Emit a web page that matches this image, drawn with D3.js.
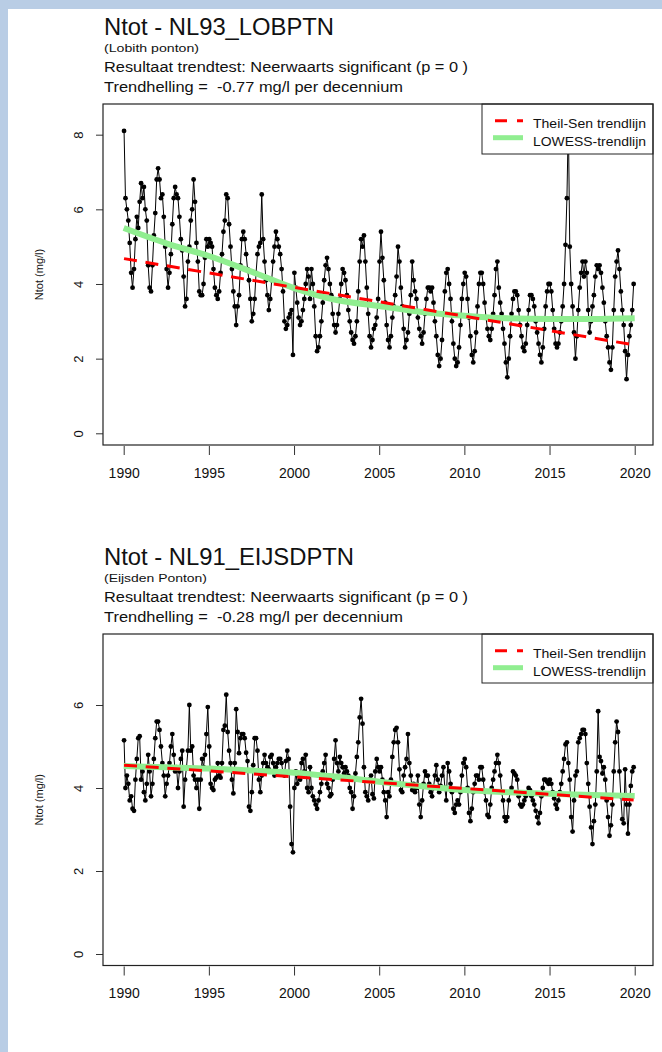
<!DOCTYPE html>
<html>
<head>
<meta charset="utf-8">
<script src="https://cdn.jsdelivr.net/npm/d3@7"></script>
<style>
  html, body { margin: 0; padding: 0; background: #b9cde5; }
  svg { display: block; }
  text { font-family: "Liberation Sans", Arial, sans-serif; fill: #111; white-space: pre; }
</style>
</head>
<body>
<svg id="chart" width="662" height="1052"></svg>
<script>
// ---- data ----
const startJaar = 1990;
const jaarTicks = [1990, 1995, 2000, 2005, 2010, 2015, 2020];

// Ntot (mg/l) Lobith, maandelijks 1990-2019
const lobithWaarden = [
  8.1, 6.3, 6.0, 5.7, 5.1, 4.3, 3.9, 4.4, 5.2, 5.8, 5.5, 6.2,   // 1990
  6.7, 6.3, 6.6, 6.0, 5.7, 4.5, 3.9, 3.8, 4.5, 5.3, 5.9, 6.8,   // 1991
  7.1, 6.8, 6.3, 6.4, 5.8, 5.0, 4.4, 3.9, 4.3, 4.8, 5.6, 6.3,   // 1992
  6.6, 6.4, 6.3, 5.8, 5.2, 4.9, 4.2, 3.4, 3.6, 4.6, 5.0, 5.7,   // 1993
  6.0, 6.8, 6.2, 5.1, 4.6, 3.8, 3.7, 3.7, 4.0, 4.7, 5.2, 5.0,   // 1994
  5.2, 5.1, 5.0, 4.4, 3.9, 3.7, 3.6, 3.8, 4.3, 4.8, 5.4, 5.7,   // 1995
  6.4, 6.3, 5.6, 5.0, 4.4, 3.8, 3.4, 2.9, 3.4, 3.7, 4.5, 5.2,   // 1996
  5.4, 5.2, 4.8, 4.4, 4.1, 3.6, 3.0, 3.2, 3.6, 4.3, 4.8, 5.0,   // 1997
  5.1, 6.4, 5.2, 4.6, 4.1, 3.7, 3.3, 3.6, 4.1, 4.6, 5.0, 5.4,   // 1998
  5.2, 5.0, 4.8, 4.4, 3.8, 3.0, 2.8, 2.9, 3.1, 3.2, 3.3, 2.1,   // 1999
  4.3, 3.9, 3.5, 3.1, 2.9, 3.0, 3.3, 3.6, 4.0, 4.4, 4.2, 3.6,   // 2000
  4.4, 4.0, 3.4, 2.6, 2.2, 2.3, 2.6, 3.0, 3.5, 4.1, 4.5, 4.7,   // 2001
  4.4, 4.0, 3.7, 3.2, 2.9, 2.7, 2.9, 3.2, 3.6, 4.0, 4.4, 4.3,   // 2002
  4.1, 3.7, 3.3, 3.0, 2.7, 2.5, 2.4, 2.6, 3.0, 3.8, 4.6, 5.2,   // 2003
  5.0, 5.3, 4.6, 3.9, 3.2, 2.6, 2.3, 2.5, 2.8, 2.9, 3.1, 3.6,   // 2004
  4.6, 5.4, 4.7, 4.1, 3.5, 2.9, 2.5, 2.3, 2.6, 3.1, 3.4, 3.7,   // 2005
  4.2, 5.0, 4.6, 3.9, 3.4, 2.8, 2.3, 2.5, 2.7, 3.2, 3.7, 4.6,   // 2006
  4.1, 3.8, 3.6, 3.1, 2.8, 2.6, 2.4, 2.7, 3.2, 3.6, 3.9, 3.9,   // 2007
  3.8, 3.9, 3.5, 3.0, 2.6, 2.1, 1.8, 2.0, 2.5, 3.2, 3.8, 4.3,   // 2008
  4.4, 4.0, 3.6, 3.0, 2.4, 2.0, 1.8, 1.9, 2.3, 2.9, 3.6, 4.0,   // 2009
  4.3, 4.2, 3.6, 3.1, 2.6, 2.1, 1.9, 2.2, 2.7, 3.4, 4.0, 4.3,   // 2010
  4.3, 4.0, 3.5, 3.1, 2.8, 2.6, 2.5, 2.8, 3.2, 3.7, 4.4, 4.6,   // 2011
  3.9, 3.5, 3.2, 2.8, 2.4, 1.9, 1.5, 2.0, 2.6, 3.2, 3.6, 3.8,   // 2012
  3.8, 3.7, 3.3, 2.9, 2.6, 2.3, 2.2, 2.4, 2.9, 3.3, 3.7, 3.7,   // 2013
  3.6, 3.4, 3.0, 2.7, 2.4, 2.1, 1.9, 2.3, 2.8, 3.4, 3.8, 4.0,   // 2014
  4.0, 3.8, 3.3, 2.8, 2.4, 2.3, 2.4, 2.7, 3.0, 3.4, 4.0, 5.05,  // 2015
  6.3, 8.4, 5.0, 4.0, 3.4, 2.7, 2.0, 2.6, 3.3, 3.9, 4.3, 4.6,   // 2016
  4.2, 4.6, 4.3, 3.3, 2.7, 3.0, 3.4, 3.7, 4.2, 4.5, 4.4, 4.5,   // 2017
  4.3, 3.9, 3.5, 3.0, 2.6, 2.3, 1.9, 1.7, 2.3, 3.3, 4.2, 4.6,   // 2018
  4.9, 4.4, 3.8, 3.3, 2.9, 2.2, 1.45, 2.1, 2.6, 2.9, 3.3, 4.0   // 2019
];
const lobithTheilSen = [4.68, 2.37];            // begin / eind
const lobithLowessJaren = [1990, 1992.5, 1995, 1997.5, 2000, 2002.5, 2005, 2007.5, 2010, 2012.5, 2015, 2017.5, 2020];
const lobithLowess = [5.50, 5.09, 4.75, 4.33, 3.89, 3.57, 3.41, 3.25, 3.15, 3.08, 3.06, 3.06, 3.08];

// Ntot (mg/l) Eijsden, maandelijks 1990-2019
const eijsdenWaarden = [
  5.15, 4.0, 4.3, 4.1, 3.7, 3.8, 3.5, 3.45, 4.2, 4.7, 5.2, 5.25,   // 1990
  4.2, 4.4, 3.9, 3.7, 4.1, 4.8, 4.4, 3.8, 4.1, 4.7, 5.2, 5.6,      // 1991
  5.6, 5.4, 5.0, 4.6, 4.3, 3.8, 4.1, 4.3, 4.6, 5.0, 5.3, 4.8,      // 1992
  4.4, 4.5, 4.0, 4.4, 4.7, 4.9, 3.55, 4.2, 4.5, 4.9, 6.0, 4.9,     // 1993
  5.0, 4.3, 4.2, 4.0, 4.2, 3.5, 4.2, 4.7, 4.5, 4.8, 5.3, 5.95,     // 1994
  5.0, 4.1, 4.0, 3.95, 4.2, 4.25, 4.6, 4.3, 4.25, 4.6, 5.4, 5.5,   // 1995
  6.25, 5.35, 4.9, 4.6, 4.2, 3.87, 4.6, 5.9, 5.35, 4.84, 5.2, 5.3, // 1996
  5.3, 5.2, 4.85, 4.65, 3.55, 3.45, 3.9, 4.55, 5.2, 5.2, 4.9, 4.2, // 1997
  3.9, 4.3, 4.6, 4.8, 4.6, 4.5, 4.45, 4.75, 4.8, 4.6, 4.3, 4.5,    // 1998
  4.6, 4.7, 4.7, 4.6, 4.35, 4.3, 4.65, 4.9, 4.7, 3.55, 2.65, 2.45, // 1999
  4.0, 4.4, 4.1, 4.3, 4.2, 4.6, 4.7, 4.4, 4.8, 4.0, 3.9, 4.5,      // 2000
  4.0, 3.8, 3.7, 3.6, 3.5, 3.7, 3.9, 4.1, 4.4, 4.6, 4.8, 4.1,      // 2001
  4.0, 3.8, 3.85, 4.2, 4.7, 5.15, 4.6, 4.4, 4.75, 4.6, 4.5, 4.35,  // 2002
  4.5, 4.4, 4.3, 4.0, 3.9, 3.5, 3.8, 4.35, 4.75, 5.1, 5.7, 6.15,   // 2003
  5.55, 4.5, 3.9, 3.8, 3.7, 4.2, 4.3, 3.85, 3.75, 4.4, 4.7, 4.5,   // 2004
  4.4, 4.5, 4.2, 3.9, 3.7, 3.3, 3.9, 3.8, 4.2, 4.75, 5.1, 5.4,     // 2005
  5.45, 5.1, 4.45, 3.95, 3.9, 4.3, 4.5, 4.7, 5.3, 4.6, 4.3, 3.95,  // 2006
  4.1, 3.9, 4.0, 4.3, 3.6, 3.3, 3.7, 4.1, 4.4, 4.3, 4.3, 4.1,      // 2007
  3.9, 3.8, 4.0, 4.3, 4.55, 4.2, 3.9, 4.05, 4.3, 4.5, 4.0, 3.7,    // 2008
  4.6, 4.4, 4.1, 3.9, 3.5, 3.4, 3.6, 3.7, 3.6, 3.9, 4.3, 4.6,      // 2009
  4.7, 4.5, 4.0, 3.4, 3.2, 3.5, 3.9, 4.1, 4.3, 4.3, 4.2, 4.5,      // 2010
  4.5, 4.2, 3.9, 3.7, 3.35, 3.3, 3.6, 4.0, 4.2, 4.4, 4.6, 4.8,     // 2011
  4.6, 4.3, 3.9, 3.7, 3.3, 3.2, 3.3, 3.7, 3.9, 4.0, 4.4, 4.35,     // 2012
  4.3, 4.2, 3.8, 3.6, 3.55, 3.6, 3.7, 3.8, 3.9, 4.0, 3.95, 3.8,    // 2013
  3.7, 3.6, 3.45, 3.3, 3.15, 3.4, 3.8, 4.0, 4.2, 4.2, 4.15, 4.1,   // 2014
  4.2, 4.1, 3.9, 3.75, 3.6, 3.5, 3.7, 3.9, 4.1, 4.4, 4.7, 5.05,    // 2015
  5.1, 4.6, 4.2, 3.3, 2.95, 3.7, 4.3, 4.4, 5.1, 5.2, 5.3, 5.4,     // 2016
  5.4, 5.3, 4.6, 4.1, 3.55, 3.05, 2.65, 3.2, 3.6, 4.4, 5.85, 4.75, // 2017
  4.65, 4.35, 4.5, 4.2, 3.7, 3.3, 2.85, 3.1, 3.6, 4.4, 5.1, 5.6,   // 2018
  5.35, 4.4, 3.8, 3.25, 3.15, 4.45, 3.6, 2.9, 3.6, 4.05, 4.4, 4.5  // 2019
];
const eijsdenTheilSen = [4.55, 3.71];
const eijsdenLowessJaren = [1990, 1992.5, 1995, 1997.5, 2000, 2002.5, 2005, 2007.5, 2010, 2012.5, 2015, 2017.5, 2020];
const eijsdenLowess = [4.53, 4.50, 4.47, 4.42, 4.37, 4.27, 4.15, 4.04, 3.95, 3.90, 3.86, 3.83, 3.81];

const legendaLabels = ["Theil-Sen trendlijn", "LOWESS-trendlijn"];

// ---- tekenen ----
const svg = d3.select("#chart");
svg.append("rect").attr("x", 8).attr("y", 9).attr("width", 654).attr("height", 1043).attr("fill", "#fff");

const datumVan = i => startJaar + (i + 0.25) / 12;

function tekenPaneel(p) {
  const g = svg.append("g");
  const x = d3.scaleLinear().domain([1988.785, 2021.074]).range([103, 653]);
  const y = d3.scaleLinear().domain(p.yDomein).range([p.onder, p.boven]);

  // koppen
  const kop = (tekst, yy, size, len) => g.append("text")
    .attr("x", 104).attr("y", yy)
    .attr("font-size", size)
    .attr("xml:space", "preserve")
    .attr("textLength", len).attr("lengthAdjust", "spacingAndGlyphs")
    .text(tekst);
  kop(p.titel, p.boven - 69.5, 23, p.titelLen);
  kop(p.sub, p.boven - 52, 11, p.subLen);
  kop(p.regel1, p.boven - 32.5, 14, 364);
  kop(p.regel2, p.boven - 12, 14, 299);

  // assen
  const yAs = g.append("g").attr("transform", "translate(103,0)")
    .call(d3.axisLeft(y).tickValues(p.yTicks).tickSize(7).tickFormat(d3.format("d")));
  yAs.select(".domain").remove();
  yAs.selectAll("line").attr("stroke", "#333");
  yAs.selectAll("text")
    .attr("x", null).attr("dy", null)
    .attr("text-anchor", "middle")
    .attr("transform", "translate(-20,0) rotate(-90)")
    .attr("font-size", 13).attr("fill", "#222");

  const xAs = g.append("g").attr("transform", `translate(0,${p.onder + 1})`)
    .call(d3.axisBottom(x).tickValues(jaarTicks).tickSize(9).tickFormat(d3.format("d")));
  xAs.select(".domain").remove();
  xAs.selectAll("line").attr("stroke", "#333");
  xAs.selectAll("text").attr("y", 22).attr("font-size", 14).attr("fill", "#222");

  g.append("text")
    .attr("transform", `translate(43,${(p.boven + p.onder) / 2}) rotate(-90)`)
    .attr("text-anchor", "middle").attr("font-size", 11)
    .text("Ntot (mg/l)");

  // meetreeks
  const punten = p.waarden.map((v, i) => [datumVan(i), v]);
  const lijn = d3.line().x(d => x(d[0])).y(d => y(d[1]));
  g.append("path").datum(punten)
    .attr("d", lijn).attr("fill", "none").attr("stroke", "#000").attr("stroke-width", 1);
  g.selectAll("circle.punt").data(punten).join("circle")
    .attr("class", "punt")
    .attr("cx", d => x(d[0])).attr("cy", d => y(d[1])).attr("r", 2.4).attr("fill", "#000");

  // LOWESS
  const lowess = p.lowessJaren.map((j, i) => [j, p.lowess[i]]);
  g.append("path").datum(lowess)
    .attr("d", d3.line().curve(d3.curveMonotoneX).x(d => x(d[0])).y(d => y(d[1])))
    .attr("fill", "none").attr("stroke", "#90ee90").attr("stroke-width", 6);

  // Theil-Sen
  const ts = [[datumVan(0), p.theilSen[0]], [datumVan(p.waarden.length - 1), p.theilSen[1]]];
  g.append("path").datum(ts)
    .attr("d", lijn).attr("fill", "none").attr("stroke", "#ff0000")
    .attr("stroke-width", 3).attr("stroke-dasharray", "13,8.7");

  // legenda
  const lg = g.append("g").attr("transform", `translate(482,${p.boven})`);
  lg.append("rect").attr("width", 171).attr("height", p.legHoogte)
    .attr("fill", "#fff").attr("stroke", "#222");
  lg.append("line").attr("x1", 13).attr("x2", 41).attr("y1", 16.7).attr("y2", 16.7)
    .attr("stroke", "#ff0000").attr("stroke-width", 3).attr("stroke-dasharray", "12,10");
  lg.append("line").attr("x1", 11).attr("x2", 41).attr("y1", 33.7).attr("y2", 33.7)
    .attr("stroke", "#90ee90").attr("stroke-width", 5);
  lg.selectAll("text.leg").data(legendaLabels).join("text")
    .attr("class", "leg")
    .attr("x", 51).attr("y", (d, i) => 23.5 + i * 18)
    .attr("font-size", 13)
    .attr("textLength", 113).attr("lengthAdjust", "spacingAndGlyphs")
    .text(d => d);

  // kader
  g.append("rect").attr("x", 103).attr("y", p.boven)
    .attr("width", 550).attr("height", p.onder - p.boven)
    .attr("fill", "none").attr("stroke", "#222").attr("stroke-width", 1.2);
}

tekenPaneel({
  titel: "Ntot - NL93_LOBPTN", titelLen: 230,
  sub: "(Lobith ponton)", subLen: 95,
  regel1: "Resultaat trendtest: Neerwaarts significant (p = 0 )",
  regel2: "Trendhelling =  -0.77 mg/l per decennium",
  boven: 104, onder: 445, legHoogte: 50,
  yDomein: [-0.3135, 8.822], yTicks: [0, 2, 4, 6, 8],
  waarden: lobithWaarden, theilSen: lobithTheilSen,
  lowessJaren: lobithLowessJaren, lowess: lobithLowess
});

tekenPaneel({
  titel: "Ntot - NL91_EIJSDPTN", titelLen: 250,
  sub: "(Eijsden Ponton)", subLen: 103,
  regel1: "Resultaat trendtest: Neerwaarts significant (p = 0 )",
  regel2: "Trendhelling =  -0.28 mg/l per decennium",
  boven: 634, onder: 965.5, legHoogte: 49,
  yDomein: [-0.277, 7.711], yTicks: [0, 2, 4, 6],
  waarden: eijsdenWaarden, theilSen: eijsdenTheilSen,
  lowessJaren: eijsdenLowessJaren, lowess: eijsdenLowess
});
</script>
</body>
</html>
